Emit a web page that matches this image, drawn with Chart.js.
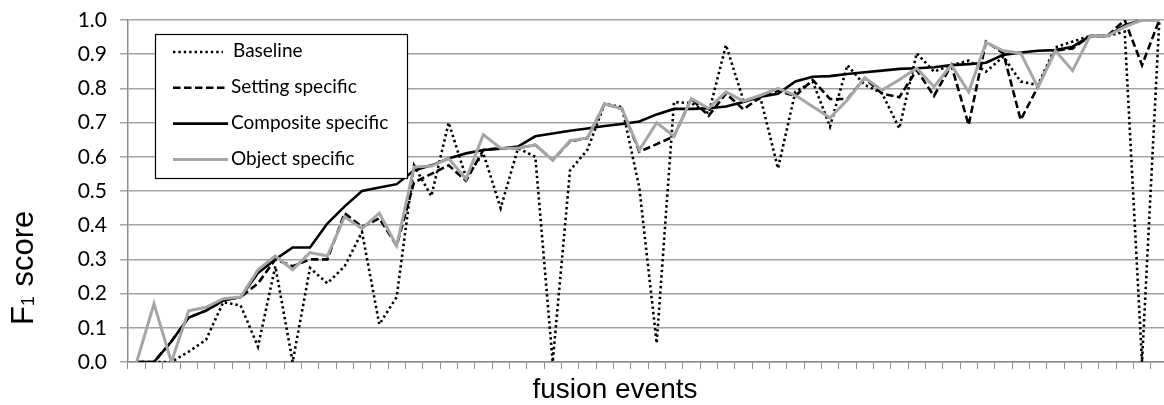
<!DOCTYPE html>
<html>
<head>
<meta charset="utf-8">
<script src="https://cdn.jsdelivr.net/npm/chart.js@4.4.0/dist/chart.umd.min.js"></script>
<style>
    html, body { margin: 0; padding: 0; background: #fff; overflow: hidden; }
    #wrap { position: relative; width: 1172px; height: 405px; }
</style>
</head>
<body>
<div id="wrap"><canvas id="myChart"></canvas></div>
<script>
// 60 fusion events along the x axis
const fusionEvents = [
    1, 2, 3, 4, 5, 6, 7, 8, 9, 10, 11, 12, 13, 14, 15, 16, 17, 18, 19, 20,
    21, 22, 23, 24, 25, 26, 27, 28, 29, 30, 31, 32, 33, 34, 35, 36, 37, 38, 39, 40,
    41, 42, 43, 44, 45, 46, 47, 48, 49, 50, 51, 52, 53, 54, 55, 56, 57, 58, 59, 60
];

const baseline = [
    0, 0, 0, 0.03, 0.065, 0.175, 0.165, 0.045, 0.28, 0,
    0.275, 0.23, 0.28, 0.38, 0.11, 0.19, 0.575, 0.485, 0.70, 0.54,
    0.61, 0.45, 0.625, 0.60, 0, 0.56, 0.62, 0.755, 0.745, 0.51,
    0.055, 0.76, 0.757, 0.727, 0.927, 0.766, 0.77, 0.566, 0.79, 0.82,
    0.688, 0.868, 0.81, 0.786, 0.683, 0.903, 0.849, 0.868, 0.881, 0.849,
    0.893, 0.82, 0.81, 0.92, 0.937, 0.953, 0.953, 0.966, 0, 1.0
];

const settingSpecific = [
    0, 0, 0.06, 0.13, 0.15, 0.18, 0.19, 0.23, 0.30, 0.28,
    0.30, 0.30, 0.435, 0.395, 0.42, 0.34, 0.525, 0.55, 0.575, 0.53,
    0.62, 0.625, 0.625, 0.635, 0.59, 0.645, 0.655, 0.755, 0.74, 0.615,
    0.637, 0.66, 0.77, 0.72, 0.785, 0.739, 0.774, 0.793, 0.778, 0.825,
    0.769, 0.769, 0.83, 0.785, 0.774, 0.854, 0.778, 0.868, 0.693, 0.937,
    0.903, 0.708, 0.805, 0.91, 0.917, 0.953, 0.953, 1.0, 0.868, 1.0
];

const compositeSpecific = [
    0, 0, 0.06, 0.13, 0.15, 0.18, 0.19, 0.26, 0.30, 0.335,
    0.335, 0.405, 0.455, 0.50, 0.51, 0.52, 0.56, 0.575, 0.595, 0.61,
    0.62, 0.624, 0.63, 0.66, 0.668, 0.676, 0.683, 0.69, 0.696, 0.703,
    0.724, 0.74, 0.74, 0.742, 0.747, 0.76, 0.776, 0.784, 0.82, 0.834,
    0.836, 0.842, 0.847, 0.852, 0.857, 0.859, 0.862, 0.868, 0.871, 0.875,
    0.898, 0.905, 0.91, 0.912, 0.922, 0.953, 0.953, 0.985, 1.0, 1.0
];

const objectSpecific = [
    0, 0.17, 0, 0.15, 0.16, 0.185, 0.19, 0.27, 0.31, 0.27,
    0.32, 0.31, 0.425, 0.39, 0.435, 0.34, 0.57, 0.573, 0.595, 0.535,
    0.665, 0.625, 0.625, 0.635, 0.59, 0.647, 0.655, 0.755, 0.74, 0.62,
    0.70, 0.66, 0.77, 0.742, 0.79, 0.763, 0.78, 0.80, 0.78, 0.747,
    0.714, 0.766, 0.831, 0.795, 0.825, 0.859, 0.805, 0.868, 0.79, 0.934,
    0.91, 0.903, 0.803, 0.91, 0.852, 0.953, 0.953, 0.98, 1.0, 1.0
];

const yTickLabels = ['0.0', '0.1', '0.2', '0.3', '0.4', '0.5', '0.6', '0.7', '0.8', '0.9', '1.0'];

const xTitle = 'fusion events';
const yTitle = ['F', '1', ' score'];

const gridGray = '#a3a3a3';
const axisGray = '#8c8c8c';

// axis titles, drawn by hand so the subscript and the off-centre spots match
const axisTitles = {
    id: 'axisTitles',
    afterDraw(chart) {
        const ctx = chart.ctx;
        ctx.save();
        ctx.fillStyle = '#000';
        ctx.textBaseline = 'alphabetic';
        ctx.textAlign = 'left';

        ctx.font = '28px "Liberation Sans", Arial, sans-serif';
        const w = ctx.measureText(xTitle).width;
        ctx.fillText(xTitle, 615 - w / 2, 398);

        ctx.translate(33, 325);
        ctx.rotate(-Math.PI / 2);
        let x = 0;
        ctx.font = '31px "Liberation Sans", Arial, sans-serif';
        ctx.fillText(yTitle[0], x, 0);
        x += ctx.measureText(yTitle[0]).width;
        ctx.font = '18px "Liberation Sans", Arial, sans-serif';
        ctx.fillText(yTitle[1], x, 1);
        x += ctx.measureText(yTitle[1]).width + 1;
        ctx.font = '31px "Liberation Sans", Arial, sans-serif';
        ctx.fillText(yTitle[2], x, 0);
        ctx.restore();
    }
};

// boxed legend sitting inside the plot, like the original
const legendBox = {
    id: 'legendBox',
    afterDatasetsDraw(chart) {
        const ctx = chart.ctx;
        ctx.save();
        ctx.fillStyle = '#fff';
        ctx.fillRect(155, 34, 252, 144);
        ctx.strokeStyle = '#000';
        ctx.lineWidth = 1.2;
        ctx.strokeRect(155.5, 34.5, 252, 144);

        chart.data.datasets.forEach((ds, i) => {
            const y = 51 + i * 35.8;
            ctx.strokeStyle = ds.borderColor;
            ctx.lineWidth = ds.borderWidth;
            ctx.setLineDash(ds.borderDash || []);
            ctx.beginPath();
            ctx.moveTo(173, y + 1);
            ctx.lineTo(i === 0 ? 223 : 228, y + 1);
            ctx.stroke();
            ctx.setLineDash([]);

            ctx.fillStyle = '#000';
            ctx.font = '19px Lato, "Open Sans", sans-serif';
            ctx.textBaseline = 'middle';
            ctx.fillText(ds.label, i === 0 ? 233 : 231, y);
        });
        ctx.restore();
    }
};

function buildChart() {
    const ctx = document.getElementById('myChart');

    new Chart(ctx, {
        type: 'line',
        data: {
            labels: fusionEvents,
            datasets: [{
                label: 'Baseline',
                data: baseline,
                borderColor: '#000',
                borderWidth: 2.6,
                borderDash: [2.4, 3],
                order: 4
            }, {
                label: 'Setting specific',
                data: settingSpecific,
                borderColor: '#000',
                borderWidth: 2.6,
                borderDash: [7.5, 3.5],
                order: 3
            }, {
                label: 'Composite specific',
                data: compositeSpecific,
                borderColor: '#000',
                borderWidth: 2.6,
                order: 2
            }, {
                label: 'Object specific',
                data: objectSpecific,
                borderColor: '#a6a6a6',
                borderWidth: 3,
                order: 1
            }]
        },
        options: {
            responsive: true,
            maintainAspectRatio: false,
            animation: false,
            layout: {
                padding: { top: 20, right: 4, bottom: 0, left: 0 }
            },
            elements: {
                point: { radius: 0 },
                line: { tension: 0, fill: false }
            },
            plugins: {
                legend: { display: false },
                tooltip: { enabled: false }
            },
            scales: {
                x: {
                    offset: true,
                    afterFit: (s) => {
                        s.height = 43;
                        s.paddingLeft = 0;
                        s.paddingRight = 0;
                    },
                    ticks: { display: false },
                    grid: {
                        offset: true,
                        drawOnChartArea: false,
                        tickLength: 7,
                        color: axisGray
                    },
                    border: { color: axisGray, width: 1.5 }
                },
                y: {
                    min: 0,
                    max: 1,
                    afterFit: (s) => {
                        s.width = 128;
                        s.paddingTop = 0;
                        s.paddingBottom = 0;
                    },
                    ticks: {
                        stepSize: 0.1,
                        padding: 13,
                        color: '#000',
                        font: { family: 'Lato, "Open Sans", sans-serif', size: 21 },
                        callback: (v, i) => yTickLabels[i]
                    },
                    grid: {
                        color: gridGray,
                        lineWidth: 1.5,
                        tickLength: 8
                    },
                    border: { color: axisGray, width: 1.5 }
                }
            }
        },
        plugins: [legendBox, axisTitles]
    });
}

buildChart();
</script>
</body>
</html>
